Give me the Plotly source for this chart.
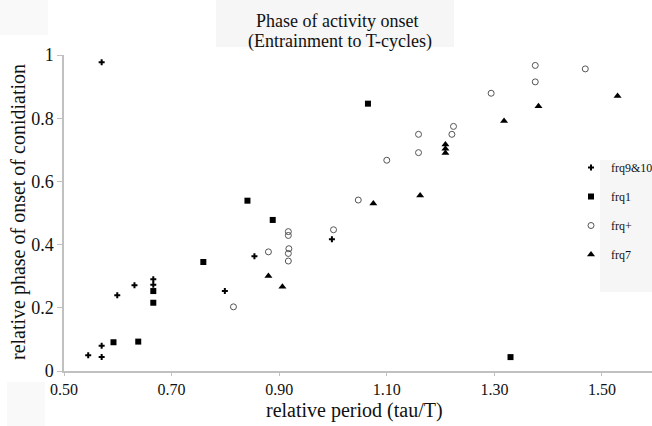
import plotly.graph_objects as go

# frq9&10
x_frq910 = [0.570, 0.545, 0.570, 0.570, 0.599, 0.631, 0.666, 0.666, 0.799, 0.854, 0.998]
y_frq910 = [0.977, 0.050, 0.044, 0.080, 0.240, 0.271, 0.273, 0.290, 0.253, 0.363, 0.417]
# frq1
x_frq1 = [0.592, 0.638, 0.666, 0.666, 0.759, 0.841, 0.888, 1.065, 1.330]
y_frq1 = [0.091, 0.093, 0.253, 0.216, 0.345, 0.539, 0.478, 0.846, 0.044]
# frq+
x_frqp = [0.815, 0.880, 0.917, 0.917, 0.918, 0.917, 0.917, 1.001, 1.047, 1.100,
          1.159, 1.159, 1.221, 1.224, 1.294, 1.376, 1.376, 1.469]
y_frqp = [0.203, 0.377, 0.441, 0.429, 0.387, 0.372, 0.348, 0.447, 0.541, 0.667,
          0.749, 0.691, 0.749, 0.774, 0.879, 0.967, 0.915, 0.956]
# frq7
x_frq7 = [0.880, 0.906, 1.075, 1.162, 1.209, 1.209, 1.209, 1.318, 1.382, 1.529]
y_frq7 = [0.301, 0.267, 0.530, 0.555, 0.717, 0.703, 0.690, 0.791, 0.838, 0.870]

x_ticks = [0.5, 0.7, 0.9, 1.1, 1.3, 1.5]
x_ticklabels = ["0.50", "0.70", "0.90", "1.10", "1.30", "1.50"]
y_ticks = [0, 0.2, 0.4, 0.6, 0.8, 1]
y_ticklabels = ["0", "0.2", "0.4", "0.6", "0.8", "1"]

title_lines = ["Phase of activity onset", "(Entrainment to T-cycles)"]
x_title = "relative period (tau/T)"
y_title = "relative phase of onset of conidiation"

FONT = "Liberation Serif"
W, H = 652, 426


def px(v):
    return v / W


def py(v):
    return 1 - v / H


fig = go.Figure()
fig.add_trace(go.Scatter(x=x_frq910, y=y_frq910, mode="markers", name="frq9&10",
                         legendgroup="a",
                         marker=dict(symbol="cross", size=5, color="black")))
fig.add_trace(go.Scatter(x=x_frq1, y=y_frq1, mode="markers", name="frq1",
                         legendgroup="b",
                         marker=dict(symbol="square", size=6, color="black")))
fig.add_trace(go.Scatter(x=x_frqp, y=y_frqp, mode="markers", name="frq+",
                         legendgroup="c",
                         marker=dict(symbol="circle-open", size=6, color="#555555",
                                     line=dict(width=1))))
fig.add_trace(go.Scatter(x=x_frq7, y=y_frq7, mode="markers", name="frq7",
                         legendgroup="d",
                         marker=dict(symbol="triangle-up", size=7, color="black")))

bg = "#f6f6f6"
shapes = [
    dict(type="rect", xref="paper", yref="paper", x0=px(216), x1=px(454),
         y0=py(47), y1=py(0), fillcolor=bg, line=dict(width=0), layer="below"),
    dict(type="rect", xref="paper", yref="paper", x0=px(600), x1=px(652),
         y0=py(292), y1=py(160), fillcolor=bg, line=dict(width=0), layer="below"),
    dict(type="rect", xref="paper", yref="paper", x0=px(0), x1=px(48),
         y0=py(35), y1=py(0), fillcolor="#f9f9f9", line=dict(width=0), layer="below"),
    dict(type="rect", xref="paper", yref="paper", x0=px(7), x1=px(45),
         y0=py(426), y1=py(382), fillcolor="#f9f9f9", line=dict(width=0), layer="below"),
]

annotations = [
    dict(text=title_lines[0], xref="paper", yref="paper", x=px(337), y=py(21),
         showarrow=False, xanchor="center", yanchor="middle",
         font=dict(family=FONT, size=18, color="#111111")),
    dict(text=title_lines[1], xref="paper", yref="paper", x=px(340), y=py(42),
         showarrow=False, xanchor="center", yanchor="middle",
         font=dict(family=FONT, size=18, color="#111111")),
    dict(text=x_title, xref="paper", yref="paper", x=px(354), y=py(410),
         showarrow=False, xanchor="center", yanchor="middle",
         font=dict(family=FONT, size=20, color="#111111")),
    dict(text=y_title, xref="paper", yref="paper", x=px(18), y=py(212),
         showarrow=False, xanchor="center", yanchor="middle", textangle=-90,
         font=dict(family=FONT, size=20, color="#111111")),
]

fig.update_layout(
    width=W, height=H,
    margin=dict(l=0, r=0, t=0, b=0, autoexpand=False),
    paper_bgcolor="white", plot_bgcolor="rgba(0,0,0,0)",
    font=dict(family=FONT, color="#111111", size=17),
    showlegend=True,
    legend=dict(x=px(571), y=py(153), xanchor="left", yanchor="top",
                bgcolor="rgba(0,0,0,0)", font=dict(family=FONT, size=12),
                itemsizing="trace", tracegroupgap=10, itemwidth=30),
    shapes=shapes,
    annotations=annotations,
)
fig.update_xaxes(range=[0.5, 1.593], domain=[px(64), 1.0], automargin=False,
                 tickvals=x_ticks, ticktext=x_ticklabels,
                 showgrid=False, zeroline=False, showline=True, linecolor="#c0c0c0",
                 linewidth=1.5, ticks="outside", tickcolor="#c0c0c0", ticklen=3,
                 tickfont=dict(family=FONT, size=16))
fig.update_yaxes(range=[0, 1], domain=[py(371), py(55)], automargin=False,
                 tickvals=y_ticks, ticktext=y_ticklabels,
                 showgrid=False, zeroline=False, showline=True, linecolor="#c0c0c0",
                 linewidth=1.5, ticks="outside", tickcolor="#c0c0c0", ticklen=5,
                 tickfont=dict(family=FONT, size=18))

fig.write_html("out.html", config={"displayModeBar": False},
               post_script="document.body.style.margin='0';document.body.style.padding='0';")
